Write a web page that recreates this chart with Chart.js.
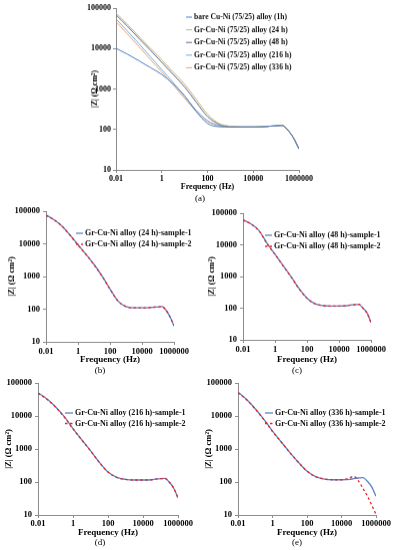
<!DOCTYPE html>
<html><head><meta charset="utf-8">
<script src="https://cdn.jsdelivr.net/npm/chart.js@4/dist/chart.umd.min.js"></script>
<style>
html,body{margin:0;padding:0;background:#fff;}
body{width:393px;height:550px;position:relative;overflow:hidden;font-family:"Liberation Serif","Times New Roman",serif;}
.box{position:absolute;}
.lab{position:absolute;font-size:9px;transform:translate(-50%,-50%);white-space:nowrap;color:#000;}
</style></head><body>
<div class="box" id="pa"><canvas></canvas></div>
<div class="box" id="pb"><canvas></canvas></div>
<div class="box" id="pc"><canvas></canvas></div>
<div class="box" id="pd"><canvas></canvas></div>
<div class="box" id="pe"><canvas></canvas></div>
<div class="lab" style="left:200px;top:198px">(a)</div>
<div class="lab" style="left:100px;top:370px">(b)</div>
<div class="lab" style="left:297px;top:370px">(c)</div>
<div class="lab" style="left:100px;top:542px">(d)</div>
<div class="lab" style="left:297px;top:542px">(e)</div>
<script>
// ---- data ----
const freqHz = [0.01, 0.0316, 0.1, 0.316, 1, 3.16, 10, 31.6, 100, 316, 1000, 3160, 10000, 31600, 50100, 100000, 178000, 316000, 562000, 1000000];
const xTickValues = [0.01, 1, 100, 10000, 1000000];
const yTickValues = [10, 100, 1000, 10000, 100000];

// panel (a)
const labelsA = ['bare Cu-Ni (75/25) alloy (1h)', 'Gr-Cu-Ni (75/25) alloy (24 h)', 'Gr-Cu-Ni (75/25) alloy (48 h)', 'Gr-Cu-Ni (75/25) alloy (216 h)', 'Gr-Cu-Ni (75/25) alloy (336 h)'];
const zBare1h = [10200, 7240, 5010, 3390, 2290, 1318, 676, 282, 141, 117, 115, 115, 115, 117, 120, 123, 126, 98, 63, 33];
const zGr24h  = [75900, 39800, 19950, 10200, 5250, 2630, 1318, 562, 240, 141, 120, 115, 115, 117, 120, 123, 126, 98, 63, 33];
const zGr48h  = [67600, 35500, 17800, 9120, 4570, 2290, 1122, 479, 209, 135, 117, 115, 115, 117, 120, 123, 126, 98, 63, 33];
const zGr216h = [53700, 26900, 13200, 6310, 3020, 1445, 661, 302, 166, 126, 117, 115, 115, 117, 120, 123, 126, 98, 63, 33];
const zGr336h = [45700, 22900, 11200, 5370, 2630, 1259, 589, 282, 158, 123, 117, 115, 115, 117, 120, 123, 126, 98, 63, 33];

// panel (b) 24 h
const z24hS1 = [75900, 54950, 34700, 18600, 9330, 4790, 2340, 1047, 417, 178, 120, 110, 110, 112, 115, 117, 120, 93, 59, 31];
const z24hS2 = [74100, 54000, 34700, 18200, 9120, 4680, 2290, 1023, 407, 178, 120, 110, 110, 112, 115, 118, 120, 93, 58, 31];
// panel (c) 48 h
const z48hS1 = [61700, 45700, 28200, 11200, 5010, 2240, 1000, 417, 209, 138, 120, 117, 117, 120, 126, 129, 132, 100, 71, 35.5];
const z48hS2 = [60300, 44700, 27500, 11000, 5010, 2190, 980, 410, 206, 138, 120, 117, 117, 120, 126, 129, 132, 100, 70, 35];
// panel (d) 216 h
const z216hS1 = [50100, 33100, 19050, 9550, 4170, 1905, 891, 398, 200, 138, 120, 115, 115, 117, 123, 126, 129, 100, 66, 33];
const z216hS2 = [49000, 32400, 18600, 9330, 4100, 1880, 880, 395, 200, 138, 120, 115, 115, 117, 123, 126, 129, 100, 65, 33];
// panel (e) 336 h
const z336hS1 = [52500, 31600, 16600, 7940, 3470, 1660, 794, 398, 214, 145, 123, 117, 117, 120, 126, 132, 135, 105, 71, 37];
const z336hS2 = [51300, 31000, 16200, 7760, 3400, 1640, 785, 395, 212, 145, 123, 117, 117, 135, 148, 105, 63, 38, 20, 10.5];

// ---- styling ----
const FONT = '"Liberation Serif","Times New Roman",serif';
const AXIS = '#8c8c8c';
const BLUE = '#5b84c4';
const RED = '#e8262a';

const legendPlugin = {
  id: 'boxLegend',
  afterDatasetsDraw(chart, args, o) {
    const ctx = chart.ctx;
    ctx.save();
    ctx.font = 'bold ' + o.size + 'px ' + FONT;
    ctx.textBaseline = 'middle';
    ctx.textAlign = 'left';
    chart.data.datasets.forEach((ds, i) => {
      const y = o.y + i * o.rowH;
      ctx.strokeStyle = ds.borderColor;
      ctx.lineWidth = ds.borderWidth;
      ctx.setLineDash(ds.borderDash || []);
      ctx.beginPath(); ctx.moveTo(o.x, y); ctx.lineTo(o.x + o.lineLen, y); ctx.stroke();
      ctx.setLineDash([]);
      ctx.fillStyle = o.color;
      ctx.fillText(ds.label, o.x + o.lineLen + o.gap, y);
    });
    ctx.restore();
  }
};

function makePanel(id, P) {
  const yLh = P.yTitleSize * 1.2, xLh = P.xTitleSize * 1.2;
  const left = (P.boxLeft !== undefined) ? P.boxLeft : P.yTitleX - yLh / 2;
  const box = {left: left, top: P.boxTop, right: P.boxRight, bottom: P.xTitleY + xLh / 2};
  const yTitlePad = P.yTitleX - box.left - yLh / 2;
  const div = document.getElementById(id);
  div.style.left = box.left + 'px';
  div.style.top = box.top + 'px';
  div.style.width = (box.right - box.left) + 'px';
  div.style.height = (box.bottom - box.top) + 'px';
  const yW = P.area.l - box.left;
  const xH = box.bottom - P.area.b;
  const tickFont = {family: FONT, weight: 'bold', size: P.tickSize};
  new Chart(div.querySelector('canvas'), {
    type: 'line',
    data: {
      datasets: P.series.map(s => ({
        label: s.label,
        data: freqHz.map((f, i) => ({x: f, y: s.values[i]})),
        borderColor: s.color, borderWidth: s.width, borderDash: s.dash || [],
        pointRadius: 0, fill: false, cubicInterpolationMode: 'monotone', order: s.order || 0
      }))
    },
    options: {
      responsive: true, maintainAspectRatio: false, animation: false, devicePixelRatio: 1,
      layout: {padding: {left: 0, top: P.area.t - box.top, right: box.right - P.area.r, bottom: 0}},
      plugins: {
        legend: {display: false}, tooltip: {enabled: false},
        boxLegend: {x: P.legend.x - box.left, y: P.legend.y - box.top, rowH: P.legend.rowH,
          lineLen: P.legend.lineLen, gap: P.legend.gap, size: P.legend.size, color: '#111'}
      },
      scales: {
        x: {
          type: 'logarithmic', min: 0.01, max: 1000000,
          afterBuildTicks: s => { s.ticks = xTickValues.map(v => ({value: v})); },
          afterFit: s => { s.height = xH; },
          ticks: {autoSkip: false, maxRotation: 0, minRotation: 0, callback: v => String(v), font: tickFont, color: '#000', padding: P.xPad},
          grid: {display: true, drawOnChartArea: false, drawTicks: true, tickLength: P.tl, color: AXIS},
          border: {display: true, color: AXIS, width: 1},
          title: {display: true, text: 'Frequency (Hz)', font: {family: FONT, weight: 'bold', size: P.xTitleSize}, color: '#000', padding: 0}
        },
        y: {
          type: 'logarithmic', min: 10, max: 100000,
          afterBuildTicks: s => { s.ticks = yTickValues.map(v => ({value: v})); },
          afterFit: s => { s.width = yW; },
          ticks: {autoSkip: false, callback: v => String(v), font: tickFont, color: '#000', padding: P.yPad},
          grid: {display: true, drawOnChartArea: false, drawTicks: true, tickLength: P.tl, color: AXIS},
          border: {display: true, color: AXIS, width: 1},
          title: {display: true, text: '|Z| (Ω cm²)', font: {family: FONT, weight: 'bold', size: P.yTitleSize}, color: '#000', padding: {top: yTitlePad, bottom: 0}}
        }
      }
    },
    plugins: [legendPlugin]
  });
}

function pairSeries(hours, v1, v2) {
  return [
    {label: 'Gr-Cu-Ni alloy (' + hours + ' h)-sample-1', values: v1, color: BLUE, width: 1.3},
    {label: 'Gr-Cu-Ni alloy (' + hours + ' h)-sample-2', values: v2, color: RED, width: 1.3, dash: [2.5, 2.5], order: -1}
  ];
}

makePanel('pa', {
  area: {l: 116, r: 299, t: 8, b: 169}, boxLeft: 78, boxTop: 0, boxRight: 393,
  yTitleX: 95, xTitleY: 186, yTitleSize: 8, xTitleSize: 8, tickSize: 8, tl: 3, xPad: 1, yPad: 2,
  legend: {x: 186, y: 17, rowH: 12.6, lineLen: 6, gap: 2, size: 7.6},
  series: [
    {label: labelsA[0], values: zBare1h, color: '#4f7fc0', width: 1},
    {label: labelsA[1], values: zGr24h, color: '#c4b77e', width: 1},
    {label: labelsA[2], values: zGr48h, color: '#6a6888', width: 1},
    {label: labelsA[3], values: zGr216h, color: '#74acdc', width: 1},
    {label: labelsA[4], values: zGr336h, color: '#e9a672', width: 1}
  ]
});
makePanel('pb', {
  area: {l: 46, r: 174, t: 211, b: 341}, boxLeft: 2, boxTop: 198, boxRight: 196,
  yTitleX: 12, xTitleY: 358.5, yTitleSize: 8.5, xTitleSize: 9, tickSize: 8.5, tl: 3, xPad: 2, yPad: 3,
  legend: {x: 76, y: 233, rowH: 11, lineLen: 7, gap: 2, size: 8},
  series: pairSeries(24, z24hS1, z24hS2)
});
makePanel('pc', {
  area: {l: 243, r: 371, t: 213, b: 339}, boxLeft: 200, boxTop: 198, boxRight: 393,
  yTitleX: 211.5, xTitleY: 358.5, yTitleSize: 8.5, xTitleSize: 9, tickSize: 8.5, tl: 3, xPad: 2, yPad: 3,
  legend: {x: 265, y: 235, rowH: 11, lineLen: 7, gap: 2, size: 8},
  series: pairSeries(48, z48hS1, z48hS2)
});
makePanel('pd', {
  area: {l: 38, r: 178, t: 383, b: 515}, boxLeft: 0, boxTop: 370, boxRight: 200,
  yTitleX: 8.5, xTitleY: 533, yTitleSize: 8.5, xTitleSize: 9, tickSize: 8.5, tl: 3, xPad: 0.5, yPad: 3,
  legend: {x: 65, y: 413, rowH: 10.5, lineLen: 8, gap: 2, size: 8},
  series: pairSeries(216, z216hS1, z216hS2)
});
makePanel('pe', {
  area: {l: 238, r: 376, t: 383, b: 515}, boxLeft: 200, boxTop: 370, boxRight: 393,
  yTitleX: 208.5, xTitleY: 533, yTitleSize: 8.5, xTitleSize: 9, tickSize: 8.5, tl: 3, xPad: 0.5, yPad: 3,
  legend: {x: 265, y: 413, rowH: 10.5, lineLen: 8, gap: 2, size: 8},
  series: pairSeries(336, z336hS1, z336hS2)
});
</script>
</body></html>
